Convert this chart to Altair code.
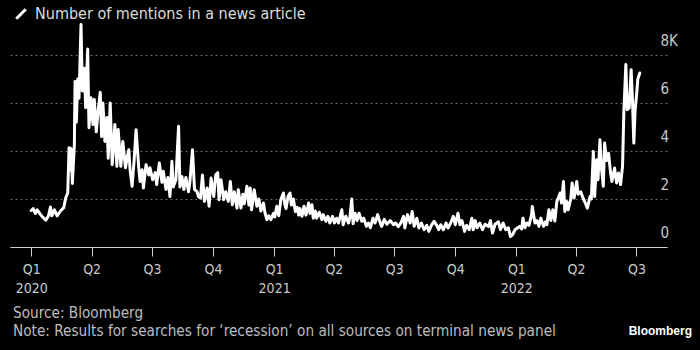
import altair as alt
import pandas as pd

# Day offsets from 2020-01-01 and mentions in thousands
day_offsets = [0,3,6,9,14,18,22,26,29,31,35,39,44,49,52,55,57,59,60,62,65,66,68,70,72,75,77,80,82,85,87,90,93,95,98,101,104,106,108,111,114,116,119,122,124,126,129,131,135,138,142,145,147,149,152,155,158,162,164,167,169,173,177,179,183,187,189,193,197,199,203,206,209,212,214,218,222,224,227,230,233,237,239,243,246,250,252,255,258,261,265,268,271,275,278,281,283,286,290,293,297,300,303,306,310,312,316,319,321,325,328,330,332,336,340,343,346,350,352,355,358,361,365,367,370,373,376,380,382,384,387,390,392,395,398,401,403,405,408,411,414,418,420,423,425,428,430,434,438,440,444,447,450,454,457,460,463,468,470,474,478,480,483,485,488,491,494,498,501,505,508,511,515,518,522,524,528,532,536,541,546,549,553,557,561,563,567,571,574,577,581,584,588,592,596,599,603,607,611,614,617,621,625,628,632,636,639,643,646,649,653,656,660,664,666,669,672,676,680,684,689,692,695,699,704,707,711,715,719,722,725,729,733,736,739,741,744,747,750,754,755,759,762,765,768,772,775,777,780,783,786,789,792,795,797,799,802,804,807,809,813,815,818,822,824,828,832,835,838,842,844,847,849,852,854,857,859,862,864,867,870,873,875,879,882,885,888,891,893,896,898,901,904,906,908,910,912,914,917]

mentions_k = [1.52,1.6,1.4,1.55,1.35,1.22,1.12,1.3,1.67,1.3,1.55,1.3,1.5,1.64,2.05,2.25,4.14,3.2,4.1,2.65,4.28,6.9,5.2,7.0,6.2,9.27,6.5,7.45,5.8,8.25,4.97,6.22,5.1,6.15,4.8,5.74,6.45,4.6,6.0,4.4,5.4,3.7,6.0,3.43,4.2,5.1,3.36,4.9,3.36,4.4,3.3,3.8,4.05,3.2,2.53,3.6,4.89,3.3,2.73,3.22,2.46,3.43,3.0,3.3,2.8,3.1,2.6,3.5,2.7,3.16,2.4,2.9,2.1,3.57,2.5,2.8,5.03,2.5,2.94,2.4,2.9,2.3,2.7,4.05,2.4,2.3,2.1,2.04,3.0,1.9,2.46,1.7,2.87,2.1,3.0,3.1,1.97,2.8,1.97,2.3,1.9,2.73,1.76,2.3,1.62,2.39,1.62,2.2,1.8,2.53,1.75,2.46,1.55,2.39,1.7,2.0,1.5,1.83,1.45,1.14,1.3,1.14,1.4,1.25,1.7,1.3,1.97,2.25,1.8,1.6,2.1,2.25,1.75,2.0,1.48,1.65,1.33,1.6,1.28,1.7,1.33,1.83,1.4,1.76,1.2,1.5,1.2,1.45,1.14,1.35,1.07,1.28,1.0,1.28,1.0,1.2,1.0,1.55,0.93,1.28,1.0,1.2,2.0,0.97,1.41,1.1,1.41,1.07,1.2,0.86,1.0,0.8,1.2,1.0,1.35,1.15,0.86,1.15,0.95,1.1,0.93,1.0,0.85,1.0,1.28,0.79,1.35,1.0,1.48,0.86,1.2,0.79,1.0,0.72,0.9,0.65,0.9,1.07,0.9,0.72,0.93,0.72,1.0,0.79,1.0,1.28,0.93,1.41,0.93,1.1,0.65,0.9,0.72,1.2,0.72,1.1,0.8,1.0,0.72,0.95,0.85,1.1,0.58,0.95,1.05,0.72,1.0,0.72,0.8,0.44,0.5,0.72,0.8,0.86,0.75,1.2,0.8,1.0,0.9,1.35,1.69,1.0,1.1,0.86,1.2,0.86,1.05,0.93,1.55,1.1,1.55,1.08,1.9,2.1,2.25,1.83,2.73,1.48,1.9,1.55,2.0,2.67,2.04,2.73,2.2,2.3,2.0,1.83,1.62,2.1,2.0,3.98,2.1,3.64,2.8,4.47,3.36,2.53,4.33,3.6,3.9,3.08,2.73,3.29,2.67,3.08,2.6,3.36,5.65,7.6,5.72,5.8,7.39,6.1,4.33,5.72,6.28,7.0,7.25]

series_name = "Number of mentions in a news article"
y_ticks = [0, 2, 4, 6, 8]
quarter_ticks = [(2020, 1), (2020, 4), (2020, 7), (2020, 10), (2021, 1), (2021, 4),
                 (2021, 7), (2021, 10), (2022, 1), (2022, 4), (2022, 7)]

dates = pd.Timestamp("2020-01-01") + pd.to_timedelta(day_offsets, unit="D")
df = pd.DataFrame({"date": dates, "value": mentions_k, "series": series_name})

FONT = "DejaVu Sans Condensed, DejaVu Sans"
LOGO_FONT = "Liberation Sans"

line = alt.Chart(df).mark_line(strokeWidth=3, strokeJoin="round", strokeCap="round").encode(
    x=alt.X("date:T",
            scale=alt.Scale(domain=[alt.DateTime(year=2019, month=11, date=30),
                                    alt.DateTime(year=2022, month=8, date=16)]),
            axis=alt.Axis(
                title=None,
                values=[alt.DateTime(year=y, month=m, date=1) for y, m in quarter_ticks],
                labelExpr="month(datum.value) == 0 ? ['Q1', timeFormat(datum.value, '%Y')] : 'Q' + (floor(month(datum.value) / 3) + 1)",
                grid=False, domain=True, domainColor="#d0d0d0", domainWidth=1,
                ticks=True, tickColor="#d0d0d0", tickSize=9, tickWidth=1,
                labelColor="#c8c8c8", labelFont=FONT, labelFontSize=14,
                labelPadding=6, labelLineHeight=19, labelBaseline="top",
                labelAlign="center", labelFlush=False, labelOverlap=False,
            )),
    y=alt.Y("value:Q",
            scale=alt.Scale(domain=[0, 9.5], nice=False),
            axis=alt.Axis(
                title=None, orient="right", values=y_ticks,
                labelExpr="datum.value == 8 ? '8K' : datum.label",
                grid=True, gridColor="#6a6a6a", gridDash=[2, 3], gridWidth=1,
                domain=False, ticks=False,
                labelColor="#c8c8c8", labelFont=FONT, labelFontSize=15,
                labelAlign="left", labelBaseline="alphabetic",
                labelOffset=-10, labelPadding=-7,
            )),
    color=alt.Color("series:N", scale=alt.Scale(range=["#ffffff"]),
                    legend=alt.Legend(
                        title=None, orient="none", legendX=3, legendY=-13,
                        symbolType="M-1,1L1,-1", symbolSize=90, symbolStrokeWidth=3,
                        labelColor="#dcdcdc", labelFont=FONT, labelFontSize=16,
                        labelOffset=6, padding=0, labelLimit=0,
                    )),
)

footer = pd.DataFrame({
    "text": ["Source: Bloomberg",
             "Note: Results for searches for \u2018recession\u2019 on all sources on terminal news panel"],
    "row": [0, 1],
})

src = alt.Chart(footer).transform_filter("datum.row == 0").mark_text(
    align="left", baseline="middle", font=FONT, fontSize=15.2, color="#bdbdbd"
).encode(text="text:N", x=alt.value(3), y=alt.value(294))

note = alt.Chart(footer).transform_filter("datum.row == 1").mark_text(
    align="left", baseline="middle", font=FONT, fontSize=15.2, color="#bdbdbd"
).encode(text="text:N", x=alt.value(3), y=alt.value(312))

logo = alt.Chart(pd.DataFrame({"text": ["Bloomberg"]})).mark_text(
    align="right", baseline="middle", font=LOGO_FONT, fontSize=12, fontWeight="bold", color="#ffffff"
).encode(text="text:N", x=alt.value(682), y=alt.value(312))

chart = alt.layer(line, src, note, logo).properties(
    width=657, height=228,
    background="#000000",
    padding={"left": 10, "top": 19, "right": 33, "bottom": 103},
    autosize=alt.AutoSizeParams(type="none"),
).configure_view(stroke=None)

chart.save("out.html", embed_options={"renderer": "svg", "actions": False})
